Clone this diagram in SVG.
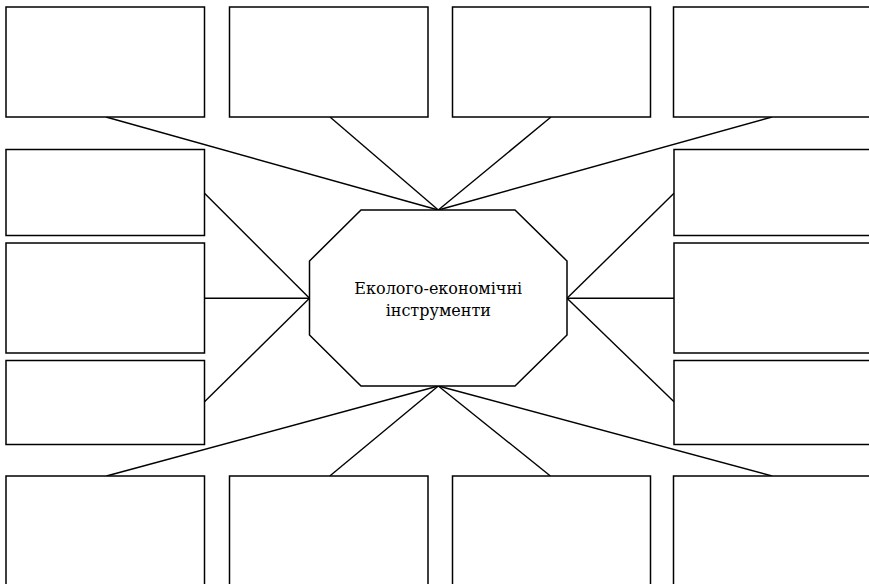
<svg xmlns="http://www.w3.org/2000/svg" width="869" height="584" viewBox="0 0 869 584">
<style>
.box{fill:#fff;stroke:#000;stroke-width:1.5}
.ln{stroke:#000;stroke-width:1.4;fill:none}
.t{font-family:"DejaVu Serif","Liberation Serif",serif;font-size:16px;fill:#000;text-anchor:middle}
</style>
<rect width="869" height="584" fill="#fff"/>
<g id="connectors">
<line class="ln" x1="106" y1="117" x2="438.3" y2="210"/>
<line class="ln" x1="330" y1="117" x2="438.3" y2="210"/>
<line class="ln" x1="551" y1="117" x2="438.3" y2="210"/>
<line class="ln" x1="772" y1="117" x2="438.3" y2="210"/>
<line class="ln" x1="204.5" y1="193.3" x2="309.5" y2="298.3"/>
<line class="ln" x1="204.5" y1="298.3" x2="309.5" y2="298.3"/>
<line class="ln" x1="204.5" y1="401.7" x2="309.5" y2="298.3"/>
<line class="ln" x1="674" y1="193.3" x2="567" y2="298.3"/>
<line class="ln" x1="674" y1="298.3" x2="567" y2="298.3"/>
<line class="ln" x1="674" y1="401.7" x2="567" y2="298.3"/>
<line class="ln" x1="106.4" y1="476" x2="438.3" y2="386"/>
<line class="ln" x1="329.8" y1="476" x2="438.3" y2="386"/>
<line class="ln" x1="550.4" y1="476" x2="438.3" y2="386"/>
<line class="ln" x1="772" y1="476" x2="438.3" y2="386"/>
</g>
<g id="top1"><rect class="box" x="6" y="7" width="198.5" height="110"/></g>
<g id="top2"><rect class="box" x="229.5" y="7" width="198.5" height="110"/></g>
<g id="top3"><rect class="box" x="452.5" y="7" width="198" height="110"/></g>
<g id="top4"><rect class="box" x="673.5" y="7" width="220" height="110"/></g>
<g id="left1"><rect class="box" x="6" y="149.5" width="198.5" height="86"/></g>
<g id="left2"><rect class="box" x="6" y="243" width="198.5" height="110"/></g>
<g id="left3"><rect class="box" x="6" y="360.5" width="198.5" height="84"/></g>
<g id="right1"><rect class="box" x="674" y="149.5" width="220" height="86"/></g>
<g id="right2"><rect class="box" x="674" y="243" width="220" height="110"/></g>
<g id="right3"><rect class="box" x="674" y="360.5" width="220" height="84"/></g>
<g id="bottom1"><rect class="box" x="6" y="476" width="198.5" height="130"/></g>
<g id="bottom2"><rect class="box" x="229.5" y="476" width="198.5" height="130"/></g>
<g id="bottom3"><rect class="box" x="452.5" y="476" width="198" height="130"/></g>
<g id="bottom4"><rect class="box" x="673.5" y="476" width="220" height="130"/></g>
<g id="center">
<polygon class="box" points="361,210 515,210 567,261 567,335 515,386 361,386 309.5,335 309.5,261"/>
<text class="t" x="438.3" y="294">Еколого-економічні</text>
<text class="t" x="438.3" y="316">інструменти</text>
</g>
</svg>
